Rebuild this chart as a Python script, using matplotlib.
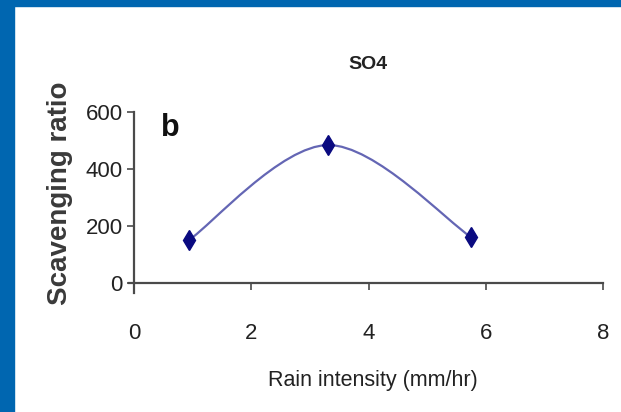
import matplotlib
matplotlib.use("Agg")
import matplotlib.pyplot as plt
import numpy as np
from matplotlib.path import Path
from matplotlib.patches import PathPatch, Rectangle

# ===== DATA =====
rain_intensity = [0.94, 3.31, 5.75]
scavenging_ratio = [151, 484, 161]
x_ticks = [0, 2, 4, 6, 8]
y_ticks = [0, 200, 400, 600]

FONT = "Liberation Sans"


def smooth_path(xs, ys):
    # excel-style smoothed line: cubic bezier segments through the points
    pts = np.column_stack([xs, ys]).astype(float)
    n = len(pts)
    verts = [pts[0]]
    codes = [Path.MOVETO]
    for i in range(n - 1):
        p0 = pts[i - 1] if i > 0 else pts[i]
        p1, p2 = pts[i], pts[i + 1]
        p3 = pts[i + 2] if i + 2 < n else pts[i + 1]
        c1 = p1 + (p2 - p0) / 6
        c2 = p2 - (p3 - p1) / 6
        verts += [c1, c2, p2]
        codes += [Path.CURVE4] * 3
    return Path(verts, codes)


fig = plt.figure(figsize=(6.21, 4.12), dpi=100)
fig.patch.set_facecolor("white")

# blue frame on top and left
fig.patches.append(Rectangle((0, 1 - 6 / 412), 1, 6 / 412, transform=fig.transFigure,
                             color="#0066b0", zorder=0))
fig.patches.append(Rectangle((0, 0), 14 / 621, 1, transform=fig.transFigure,
                             color="#0066b0", zorder=0))

ax = fig.add_axes([134 / 621, 129 / 412, 469 / 621, 171 / 412])
ax.set_xlim(0, 8)
ax.set_ylim(0, 600)

line = PathPatch(smooth_path(rain_intensity, scavenging_ratio), facecolor="none",
                 edgecolor="#6466b4", lw=1.6, transform=ax.transData)
ax.add_patch(line)
ax.plot(rain_intensity, scavenging_ratio, linestyle="none", marker="d",
        markersize=10, color="#0a0a80", clip_on=False, zorder=3)

for s in ["top", "right"]:
    ax.spines[s].set_visible(False)
for s in ["left", "bottom"]:
    ax.spines[s].set_color("#4a4a4a")
    ax.spines[s].set_linewidth(1.6)
ax.spines["left"].set_bounds(-35, 600)
ax.spines["bottom"].set_bounds(-0.08, 8)

ax.set_xticks(x_ticks)
ax.set_yticks(y_ticks)
ax.tick_params(axis="both", colors="#4a4a4a", width=1.2, labelcolor="#222222")
ax.tick_params(axis="x", length=5, pad=24)
ax.tick_params(axis="y", length=5, pad=3)
for lab in ax.get_xticklabels() + ax.get_yticklabels():
    lab.set_family(FONT)
    lab.set_fontsize(16)

ax.text(0.499, 1.275, "SO4", transform=ax.transAxes, ha="center", va="center",
        fontsize=14, fontweight="bold", family=FONT, color="#222222")
ax.text(0.077, 0.905, "b", transform=ax.transAxes, ha="center", va="center",
        fontsize=22, fontweight="bold", family=FONT, color="#111111")
ax.text(-0.158, 0.526, "Scavenging ratio", transform=ax.transAxes, rotation=90,
        ha="center", va="center", fontsize=20, fontweight="bold", family=FONT,
        color="#3a3a3a")
ax.text(0.51, -0.573, "Rain intensity (mm/hr)", transform=ax.transAxes,
        ha="center", va="center", fontsize=15.5, family=FONT, color="#222222")

fig.savefig("out.png", dpi=100)
